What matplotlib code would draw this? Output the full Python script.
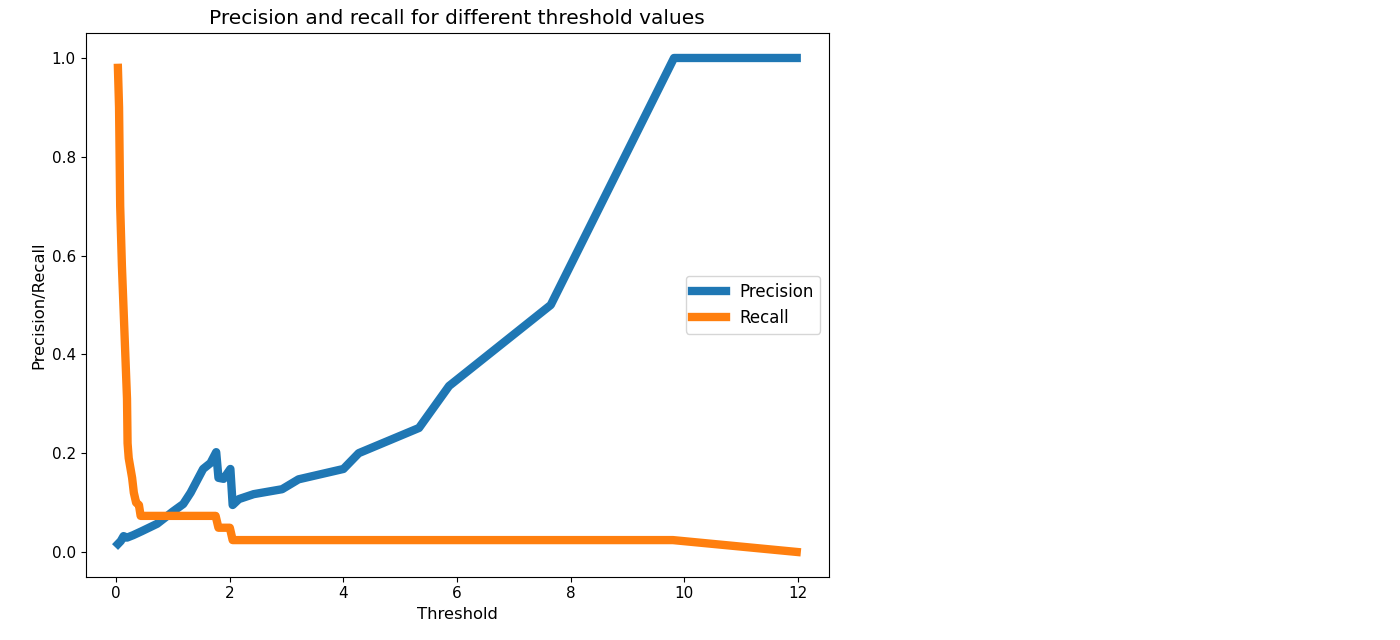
import matplotlib
matplotlib.use("Agg")
import matplotlib.pyplot as plt

# precision curve (threshold, value)
prec_thresh = [0.03, 0.08, 0.13, 0.19, 0.30, 0.45, 0.72, 1.00, 1.18, 1.31, 1.42, 1.53, 1.66, 1.76,
               1.80, 1.89, 2.01, 2.05, 2.16, 2.42, 2.92, 3.21, 4.00, 4.27, 5.33, 5.86, 7.65, 9.82, 11.98]
precision = [0.016, 0.022, 0.032, 0.029, 0.034, 0.042, 0.057, 0.082, 0.097, 0.120, 0.144, 0.168, 0.180, 0.202,
             0.150, 0.148, 0.168, 0.095, 0.107, 0.117, 0.127, 0.147, 0.168, 0.200, 0.251, 0.336, 0.500, 1.0, 1.0]

# recall curve
rec_thresh = [0.03, 0.05, 0.07, 0.10, 0.13, 0.16, 0.19, 0.20, 0.22, 0.25, 0.28, 0.31, 0.35, 0.40,
              0.43, 1.75, 1.80, 2.00, 2.05, 9.80, 11.98]
recall = [0.980, 0.900, 0.700, 0.580, 0.490, 0.400, 0.310, 0.220, 0.190, 0.170, 0.150, 0.120, 0.100, 0.095,
          0.073, 0.073, 0.049, 0.049, 0.024, 0.024, 0.0]

fig = plt.figure(figsize=(14, 6.4), dpi=100)
ax = fig.add_axes([0.0611, 0.099, 0.5307, 0.849])

ax.plot(prec_thresh, precision, label="Precision", linewidth=6)
ax.plot(rec_thresh, recall, label="Recall", linewidth=6)

ax.set_xlim(-0.54, 12.54)
ax.set_xticks([0, 2, 4, 6, 8, 10, 12])
ax.set_yticks([0.0, 0.2, 0.4, 0.6, 0.8, 1.0])
ax.tick_params(labelsize=11)
ax.set_xlabel("Threshold", fontsize=11.8)
ax.set_ylabel("Precision/Recall", fontsize=11.8)
ax.set_title("Precision and recall for different threshold values", fontsize=14.5, pad=7)
ax.legend(loc="center right", fontsize=12)

fig.savefig("out.png", dpi=100)
